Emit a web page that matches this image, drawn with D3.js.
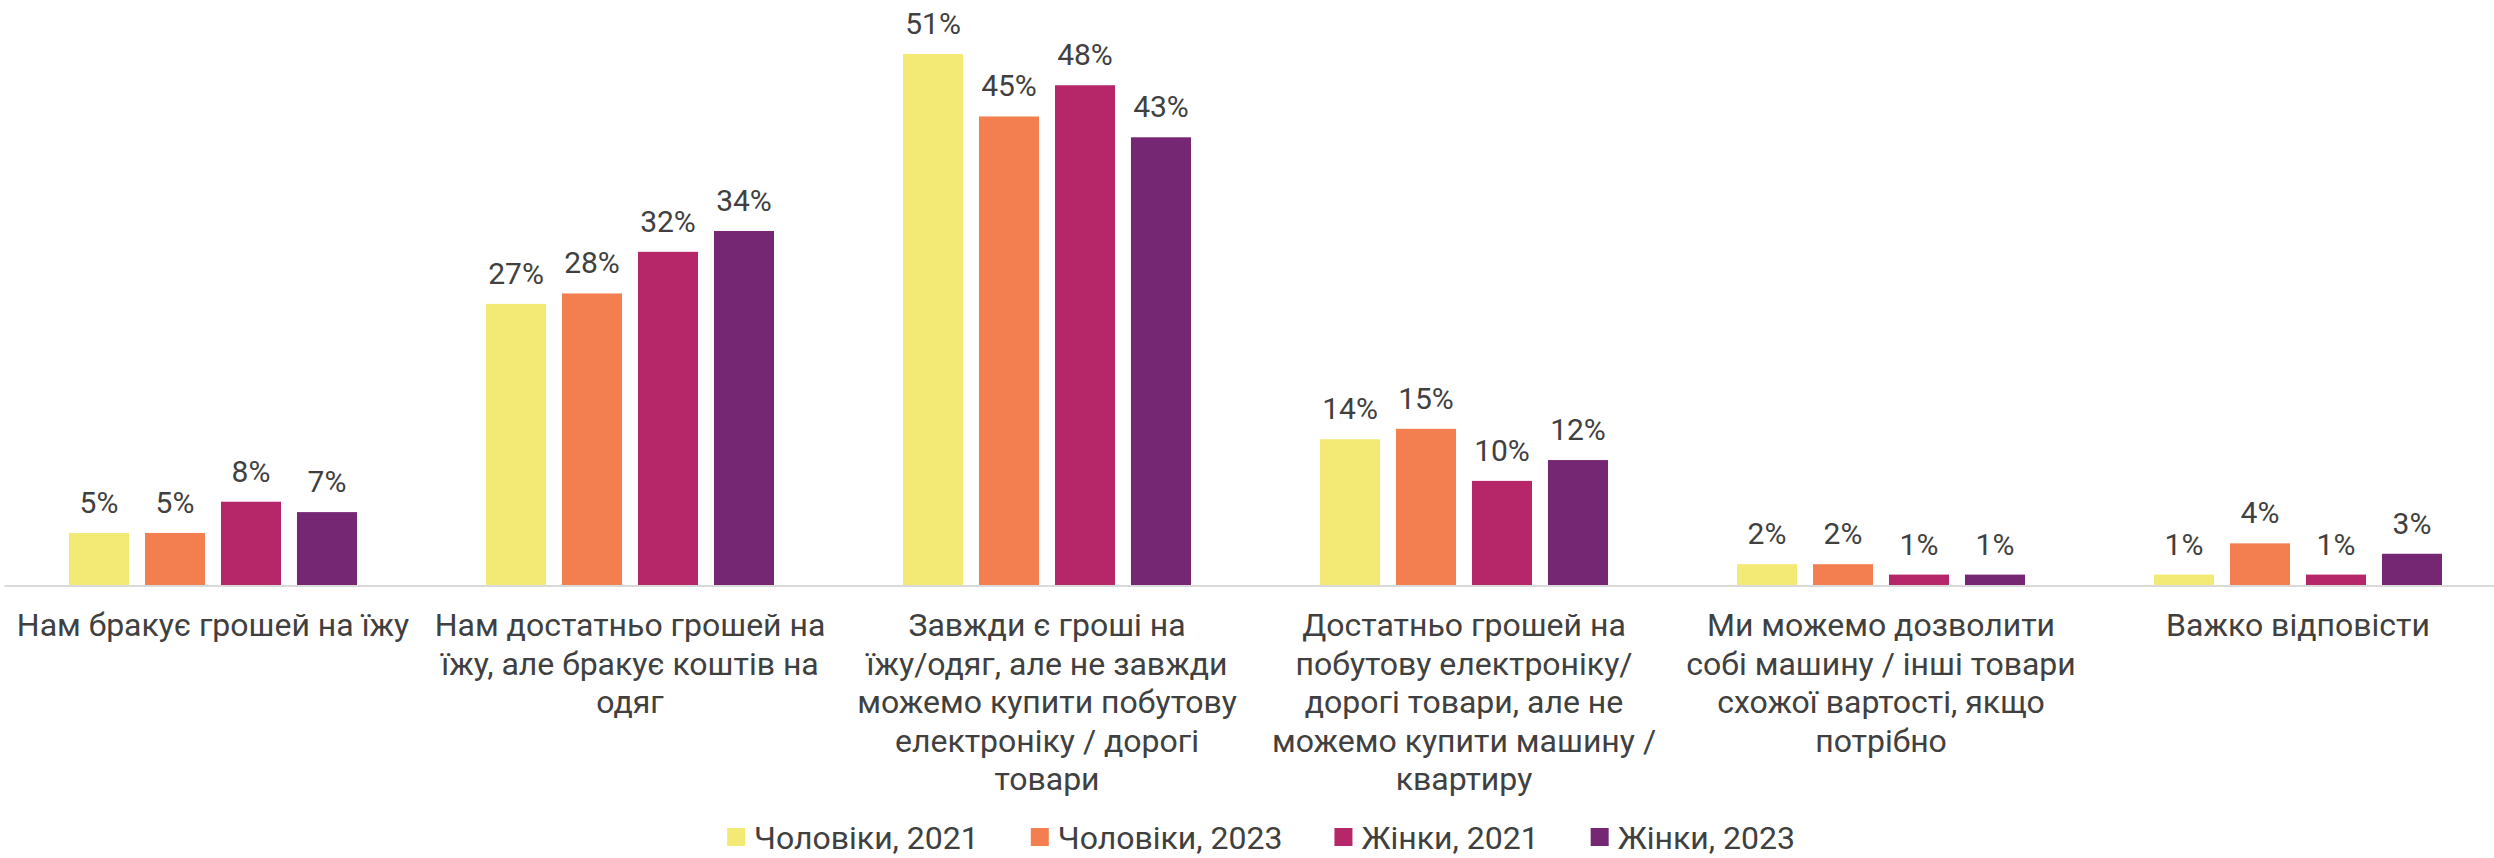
<!DOCTYPE html>
<html>
<head>
<meta charset="utf-8">
<script src="https://cdn.jsdelivr.net/npm/d3@7"></script>
<style>
  html, body { margin: 0; padding: 0; background: #fff; }
  svg { display: block; font-family: Roboto, "Noto Sans", sans-serif; }
</style>
</head>
<body>
<svg id="chart" width="2494" height="858"></svg>
<script>
// chart data
const categories = [
  ["Нам бракує грошей на їжу"],
  ["Нам достатньо грошей на", "їжу, але бракує коштів на", "одяг"],
  ["Завжди є гроші на", "їжу/одяг, але не завжди", "можемо купити побутову", "електроніку / дорогі", "товари"],
  ["Достатньо грошей на", "побутову електроніку/", "дорогі товари, але не", "можемо купити машину /", "квартиру"],
  ["Ми можемо дозволити", "собі машину / інші товари", "схожої вартості, якщо", "потрібно"],
  ["Важко відповісти"]
];
const seriesNames = ["Чоловіки, 2021", "Чоловіки, 2023", "Жінки, 2021", "Жінки, 2023"];
const men2021 = [5, 27, 51, 14, 2, 1];
const men2023 = [5, 28, 45, 15, 2, 4];
const women2021 = [8, 32, 48, 10, 1, 1];
const women2023 = [7, 34, 43, 12, 1, 3];
const seriesColors = ["#F3EA76", "#F37F51", "#B52769", "#762774"];

const values = [men2021, men2023, women2021, women2023];
const textColor = "#404040";

const svg = d3.select("#chart");
const width = 2494, height = 858;
const baseline = 585;

const x0 = d3.scaleBand()
    .domain(d3.range(categories.length))
    .range([4.5, 2506.5])
    .padding(0);

const groupWidth = 288;
const x1 = d3.scaleBand()
    .domain(d3.range(seriesNames.length))
    .range([0, groupWidth])
    .paddingInner(0.21)
    .paddingOuter(0);

const y = d3.scaleLinear()
    .domain([0, 51])
    .range([baseline, 54]);

// axis line
svg.append("line")
    .attr("x1", x0.range()[0]).attr("x2", width)
    .attr("y1", baseline + 1).attr("y2", baseline + 1)
    .attr("stroke", "#d9d9d9")
    .attr("stroke-width", 2);

// groups of bars
const groups = svg.selectAll("g.group")
    .data(categories)
    .join("g")
    .attr("class", "group")
    .attr("transform", (d, i) => `translate(${x0(i) + (x0.bandwidth() - groupWidth) / 2},0)`);

groups.each(function(cat, ci) {
    const g = d3.select(this);
    const rows = values.map((s, si) => ({ si: si, v: s[ci] }));
    g.selectAll("rect")
        .data(rows)
        .join("rect")
        .attr("x", d => x1(d.si))
        .attr("width", x1.bandwidth())
        .attr("y", d => y(d.v))
        .attr("height", d => baseline - y(d.v))
        .attr("fill", d => seriesColors[d.si]);
    g.selectAll("text.val")
        .data(rows)
        .join("text")
        .attr("class", "val")
        .attr("x", d => x1(d.si) + x1.bandwidth() / 2)
        .attr("y", d => y(d.v) - 20)
        .attr("text-anchor", "middle")
        .attr("font-size", 30)
        .attr("fill", textColor)
        .text(d => d.v + "%");
});

// category labels
const labels = svg.selectAll("text.cat")
    .data(categories)
    .join("text")
    .attr("class", "cat")
    .attr("text-anchor", "middle")
    .attr("font-size", 32)
    .attr("fill", textColor)
    .attr("transform", (d, i) => `translate(${x0(i) + x0.bandwidth() / 2},636)`);
labels.selectAll("tspan")
    .data(d => d)
    .join("tspan")
    .attr("x", 0)
    .attr("y", (d, i) => i * 38.5)
    .text(d => d);

// legend
const legend = svg.append("g");
let lx = 0;
seriesNames.forEach((name, i) => {
    const item = legend.append("g").attr("transform", `translate(${lx},0)`);
    item.append("rect")
        .attr("x", 0).attr("y", -21)
        .attr("width", 18).attr("height", 18)
        .attr("fill", seriesColors[i]);
    const t = item.append("text")
        .attr("x", 27).attr("y", 0)
        .attr("font-size", 32)
        .attr("fill", textColor)
        .text(name);
    lx += 27 + t.node().getComputedTextLength() + 52;
});
const legendW = lx - 52;
legend.attr("transform", `translate(${1261 - legendW / 2},849)`);
</script>
</body>
</html>
